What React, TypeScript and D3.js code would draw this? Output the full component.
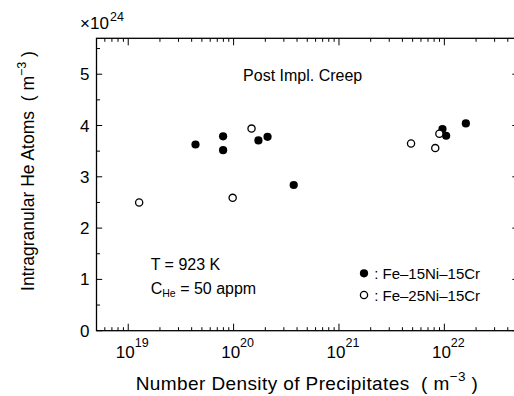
import React from "react";
import * as d3 from "d3";

// Data: number density of precipitates (m^-3) vs intragranular He atoms (×10^24 m^-3)
const fe15Density = [4.35e19, 7.95e19, 7.95e19, 1.72e20, 2.1e20, 3.72e20, 9.6e21, 1.04e22, 1.6e22];
const fe15HeAtoms = [3.63, 3.79, 3.52, 3.71, 3.78, 2.84, 3.93, 3.8, 4.04];
const fe25Density = [1.27e19, 9.8e19, 1.48e20, 4.83e21, 8.2e21, 8.97e21];
const fe25HeAtoms = [2.5, 2.59, 3.94, 3.65, 3.56, 3.84];

const seriesLabels = [": Fe\u201315Ni\u201315Cr", ": Fe\u201325Ni\u201315Cr"];
const xDecades = [19, 20, 21, 22];
const yTicks = [0, 1, 2, 3, 4, 5];
const xDomain = [5e18, 5e22];
const yDomain = [0, 5.7];

const W = 514;
const H = 396;
const m = { left: 96.5, right: 518, top: 38.3, bottom: 330.7 };
const FONT = "'Liberation Sans', Arial, Helvetica, sans-serif";

export default function App() {
  const x = d3.scaleLog().domain(xDomain).range([m.left, m.right]);
  const y = d3.scaleLinear().domain(yDomain).range([m.bottom, m.top]);

  const xMinor: number[] = [];
  for (let e = 18; e <= 22; e++) {
    for (let k = 2; k <= 9; k++) {
      const v = k * Math.pow(10, e);
      if (v >= xDomain[0] && v <= xDomain[1]) xMinor.push(v);
    }
  }
  const yMinor = d3.range(0.5, 5.7, 1);

  const majLen = 7;
  const minLen = 3.5;
  const yMajLen = 5.7;

  return (
    <div style={{ position: "fixed", left: 0, top: 0 }}>
      <svg width={W} height={H} style={{ display: "block", fontFamily: FONT }}>
        <rect x={0} y={0} width={W} height={H} fill="#fff" />
        <rect x={m.left} y={m.top} width={m.right - m.left} height={m.bottom - m.top} fill="none" stroke="#000" strokeWidth={1.3} />

        {xDecades.map((d) => {
          const px = x(Math.pow(10, d));
          return (
            <g key={"xd" + d}>
              <line x1={px} x2={px} y1={m.bottom} y2={m.bottom - majLen} stroke="#000" strokeWidth={1} />
              <line x1={px} x2={px} y1={m.top} y2={m.top + majLen} stroke="#000" strokeWidth={1} />
              <text x={px + 6.5} y={358} fontSize={17} textAnchor="end" fill="#000">10</text>
              <text x={px + 6.5} y={347} fontSize={12.5} textAnchor="start" fill="#000">{d}</text>
            </g>
          );
        })}
        {xMinor.map((v, i) => {
          const px = x(v);
          return (
            <g key={"xm" + i}>
              <line x1={px} x2={px} y1={m.bottom} y2={m.bottom - minLen} stroke="#000" strokeWidth={1} />
              <line x1={px} x2={px} y1={m.top} y2={m.top + minLen} stroke="#000" strokeWidth={1} />
            </g>
          );
        })}

        {yTicks.map((t) => {
          const py = y(t);
          return (
            <g key={"yt" + t}>
              <line x1={m.left} x2={m.left + yMajLen} y1={py} y2={py} stroke="#000" strokeWidth={1} />
              <line x1={m.right} x2={m.right - yMajLen} y1={py} y2={py} stroke="#000" strokeWidth={1} />
              <text x={89.5} y={py + 6} fontSize={17} textAnchor="end" fill="#000">{t}</text>
            </g>
          );
        })}
        {yMinor.map((t, i) => {
          const py = y(t);
          return (
            <g key={"ym" + i}>
              <line x1={m.left} x2={m.left + minLen} y1={py} y2={py} stroke="#000" strokeWidth={1} />
              <line x1={m.right} x2={m.right - minLen} y1={py} y2={py} stroke="#000" strokeWidth={1} />
            </g>
          );
        })}

        <text x={80} y={29.3} fontSize={17} fill="#000">
          {"\u00d710"}
        </text>
        <text x={110} y={21} fontSize={12.5} fill="#000">24</text>

        {fe15Density.map((d, i) => (
          <circle key={"f" + i} cx={x(d)} cy={y(fe15HeAtoms[i])} r={4.1} fill="#000" />
        ))}
        {fe25Density.map((d, i) => (
          <circle key={"o" + i} cx={x(d)} cy={y(fe25HeAtoms[i])} r={3.6} fill="#fff" stroke="#000" strokeWidth={1.3} />
        ))}

        <text x={302.7} y={80.7} fontSize={16} textAnchor="middle" fill="#000">Post Impl. Creep</text>
        <text x={150.7} y={270} fontSize={16} fill="#000">T = 923 K</text>
        <text x={150.7} y={294} fontSize={16} fill="#000">
          C<tspan fontSize={10.5} dy={3}>He</tspan>
          <tspan dy={-3}>{" = 50 appm"}</tspan>
        </text>

        <circle cx={364} cy={273.3} r={4.1} fill="#000" />
        <text x={370} y={279} fontSize={15} fill="#000" style={{ whiteSpace: "pre" }}>{" " + seriesLabels[0]}</text>
        <circle cx={364} cy={295} r={3.6} fill="#fff" stroke="#000" strokeWidth={1.3} />
        <text x={370} y={300.5} fontSize={15} fill="#000" style={{ whiteSpace: "pre" }}>{" " + seriesLabels[1]}</text>

        <text x={307} y={390} fontSize={19} letterSpacing={0.4} textAnchor="middle" fill="#000" style={{ whiteSpace: "pre" }}>
          {"Number Density of Precipitates  ( m"}
          <tspan fontSize={13.5} dy={-9}>{"\u22123"}</tspan>
          <tspan dy={9}>{" )"}</tspan>
        </text>
        <text
          transform="translate(34,171) rotate(-90)"
          fontSize={17.5}
          textAnchor="middle"
          fill="#000"
          style={{ whiteSpace: "pre" }}
        >
          {"Intragranular He Atoms  ( m"}
          <tspan fontSize={12.5} dy={-8}>{"\u22123"}</tspan>
          <tspan dy={8}>{" )"}</tspan>
        </text>
      </svg>
    </div>
  );
}
